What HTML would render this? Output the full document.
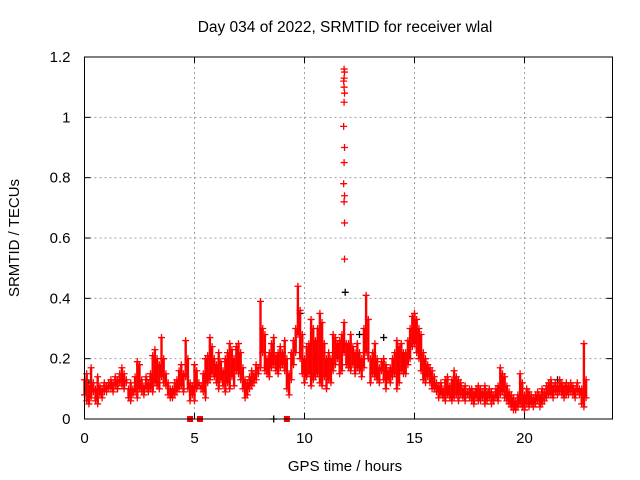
<!DOCTYPE html>
<html><head><meta charset="utf-8"><style>
body{margin:0;background:#fff}
svg{display:block;font-family:"Liberation Sans",sans-serif}
</style></head><body>
<svg id="chart" width="640" height="480">
<rect width="640" height="480" fill="#fff"/>
<text x="345" y="32" font-size="15.5" text-anchor="middle">Day 034 of 2022, SRMTID for receiver wlal</text>
<text x="345" y="471" font-size="15" text-anchor="middle">GPS time / hours</text>
<text transform="translate(19,238) rotate(-90)" font-size="15" text-anchor="middle">SRMTID / TECUs</text>
<g id="grid"></g><g id="marks"></g><g id="axes"></g>
</svg>
<script>
const xTicks=[0,5,10,15,20];
const yTicks=[0,0.2,0.4,0.6,0.8,1,1.2];
const yTickLabels=["0","0.2","0.4","0.6","0.8","1","1.2"];
const tStart=0, tStep=0.1;
const lowVals=[.08,.06,.05,.07,.09,.06,.05,.08,.07,.09,
.09,.1,.1,.09,.11,.1,.12,.11,.1,.12,
.07,.06,.08,.09,.07,.1,.09,.08,.1,.09,
.1,.09,.12,.11,.1,.14,.12,.11,.08,.07,
.07,.08,.09,.1,.11,.09,.14,.1,.06,.08,
.06,.1,.11,.1,.09,.07,.12,.13,.15,.14,
.12,.1,.13,.11,.09,.12,.1,.14,.11,.16,
.15,.13,.1,.07,.08,.1,.11,.12,.13,.15,
.17,.22,.16,.15,.14,.17,.18,.16,.15,.17,
.18,.16,.1,.08,.13,.18,.22,.28,.2,.15,
.12,.14,.15,.11,.13,.14,.15,.12,.11,.14,
.1,.13,.12,.16,.18,.2,.15,.16,.22,.18,
.17,.16,.18,.15,.17,.16,.14,.17,.22,.2,
.12,.15,.14,.13,.12,.16,.13,.1,.13,.12,
.14,.15,.1,.12,.16,.15,.15,.18,.2,.24,
.25,.22,.2,.16,.13,.12,.14,.12,.1,.1,
.09,.07,.08,.07,.06,.08,.07,.06,.07,.08,
.06,.08,.07,.06,.08,.07,.06,.05,.07,.06,
.06,.07,.05,.06,.07,.05,.06,.07,.06,.08,
.09,.07,.06,.05,.04,.03,.03,.04,.05,.04,
.03,.05,.04,.05,.04,.05,.06,.04,.05,.06,
.07,.08,.08,.07,.09,.08,.09,.08,.07,.08,
.08,.09,.08,.07,.09,.08,.05,.04,.07];
const highVals=[.13,.15,.11,.17,.12,.1,.14,.11,.1,.12,
.11,.12,.13,.12,.14,.13,.15,.17,.15,.13,
.1,.12,.1,.14,.19,.18,.13,.11,.14,.12,
.15,.21,.23,.2,.18,.27,.2,.15,.12,.1,
.1,.12,.13,.16,.18,.15,.26,.2,.12,.11,
.18,.16,.12,.11,.15,.2,.21,.27,.24,.2,
.18,.22,.19,.16,.2,.22,.25,.23,.2,.24,
.25,.22,.17,.13,.12,.14,.16,.15,.18,.17,
.39,.3,.28,.2,.22,.25,.27,.21,.22,.24,
.22,.26,.2,.15,.22,.26,.3,.44,.36,.28,
.2,.24,.25,.33,.3,.26,.3,.35,.32,.25,
.2,.22,.2,.28,.27,.25,.26,.28,.32,.25,
.25,.28,.24,.22,.25,.22,.2,.3,.41,.33,
.2,.22,.25,.2,.17,.19,.2,.18,.16,.17,
.2,.22,.26,.24,.25,.22,.22,.26,.3,.34,
.35,.33,.3,.28,.22,.2,.18,.17,.16,.14,
.12,.11,.12,.1,.13,.14,.11,.13,.16,.14,
.13,.12,.1,.11,.09,.1,.1,.09,.1,.11,
.1,.09,.11,.09,.1,.09,.08,.1,.11,.17,
.15,.14,.11,.09,.08,.07,.06,.08,.15,.12,
.08,.1,.09,.08,.07,.08,.09,.08,.1,.09,
.11,.12,.13,.11,.12,.11,.13,.12,.11,.12,
.11,.12,.11,.1,.12,.1,.1,.25,.13];
const spikeTimes=[11.8,11.82,11.8,11.78,11.8,11.82,11.8,11.78,11.82,11.8,11.78,11.82,11.8,11.82,11.82];
const spikeVals=[1.16,1.15,1.13,1.12,1.1,1.08,1.05,0.97,0.9,0.85,0.78,0.74,0.72,0.65,0.53];
const blackTimes=[0.2,1.5,3.0,5.6,6.5,8.6,9.8,10.5,11.85,12.5,13.6,15.5,16.5,18.2,20.5,21.5,22.1];
const blackVals=[0.12,0.1,0.13,0.2,0.15,0.0,0.35,0.2,0.42,0.28,0.27,0.15,0.1,0.08,0.06,0.13,0.1];
const zeroTimes=[4.8,5.25,9.2];

const X0=84.5,X1=612.5,Y0=419,Y1=57,XMAX=24,YMAX=1.2;
const xs=v=>X0+(v/XMAX)*(X1-X0);
const ys=v=>Y0-(v/YMAX)*(Y0-Y1);
const NS="http://www.w3.org/2000/svg";
function mk(tag,attrs,parent){const e=document.createElementNS(NS,tag);for(const k in attrs)e.setAttribute(k,attrs[k]);parent.appendChild(e);return e;}
const grid=document.getElementById('grid'),marks=document.getElementById('marks'),axes=document.getElementById('axes');
xTicks.forEach(t=>{if(t>0){const l=mk('line',{x1:xs(t),x2:xs(t),y1:Y0,y2:Y1,stroke:'#a0a0a0','stroke-dasharray':'2,3'},grid);

}
mk('line',{x1:xs(t),x2:xs(t),y1:Y0,y2:Y0-6,stroke:'#000'},axes);mk('line',{x1:xs(t),x2:xs(t),y1:Y1,y2:Y1+6,stroke:'#000'},axes);
const tx=mk('text',{x:xs(t),y:Y0+24,'font-size':15,'text-anchor':'middle'},axes);tx.textContent=t;

});
yTicks.forEach((t,i)=>{if(t>0&&t<YMAX){const l=mk('line',{x1:X0,x2:X1,y1:ys(t),y2:ys(t),stroke:'#a0a0a0','stroke-dasharray':'2,3'},grid);

}
mk('line',{x1:X0,x2:X0+6,y1:ys(t),y2:ys(t),stroke:'#000'},axes);mk('line',{x1:X1,x2:X1-6,y1:ys(t),y2:ys(t),stroke:'#000'},axes);
const tx=mk('text',{x:X0-14,y:ys(t)+5,'font-size':15,'text-anchor':'end'},axes);tx.textContent=yTickLabels[i];

});
const fr=mk('rect',{x:X0,y:Y1,width:X1-X0,height:Y0-Y1,fill:'none',stroke:'#000'},axes);


function plus(t,v,color,name){const x=xs(t),y=ys(v);const p=mk('path',{d:`M${x-3.5},${y}h7M${x},${y-3.5}v7`,stroke:color,'stroke-width':1.3,fill:'none'},marks);

}
blackTimes.forEach((t,i)=>plus(t,blackVals[i],'#000','black-point'));
lowVals.forEach((v,i)=>{const t=tStart+i*tStep;const h=highVals[i];
const r=mk('line',{x1:xs(t),x2:xs(t),y1:ys(v),y2:ys(h),stroke:'#f00','stroke-width':2.4},marks);


plus(t,v,'#f00','red-point');plus(t,h,'#f00','red-point');});
spikeTimes.forEach((t,i)=>plus(t,spikeVals[i],'#f00','spike-point'));
zeroTimes.forEach(t=>{const r=mk('rect',{x:xs(t)-3,y:Y0-3,width:6,height:6,fill:'#f00'},marks);

});
</script>
</body></html>
